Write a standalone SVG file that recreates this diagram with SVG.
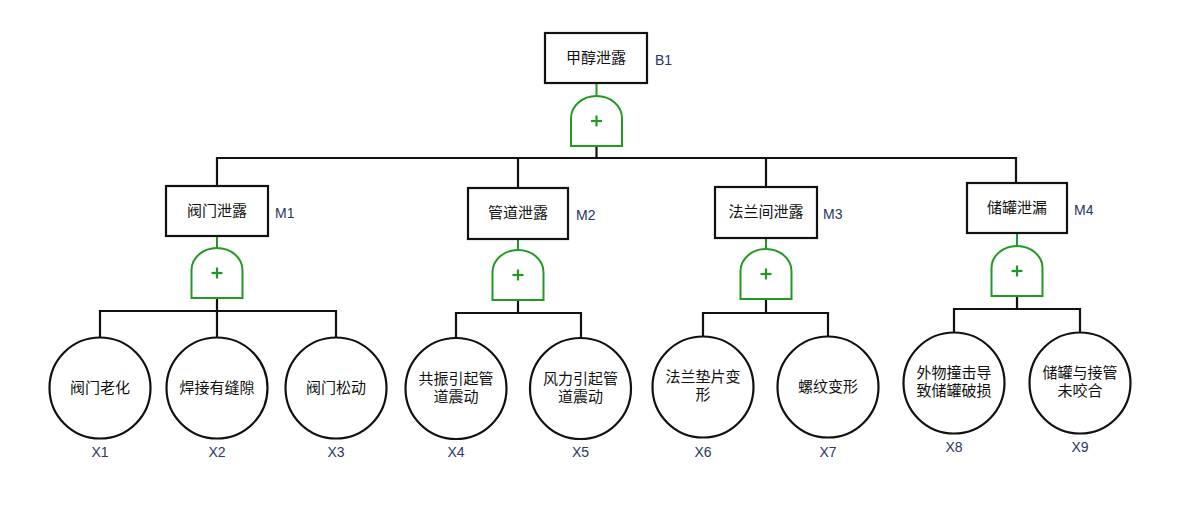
<svg xmlns="http://www.w3.org/2000/svg" width="1185" height="505" viewBox="0 0 1185 505">
<defs>
<style>
.box{fill:#fff;stroke:#111;stroke-width:2.2}
.ev{fill:#fff;stroke:#111;stroke-width:2.2}
.gate{fill:#fff;stroke:#229922;stroke-width:2}
.plus{stroke:#229922;stroke-width:2.2}
.gs{stroke:#229922;stroke-width:2;fill:none}
.ln{stroke:#111;stroke-width:2.2;fill:none}
.t{font-family:"Noto Sans CJK SC","Noto Sans",sans-serif;font-size:15px;fill:#111;text-anchor:middle}
.lb{font-family:"Liberation Sans",Arial,sans-serif;font-size:14px;fill:#2b3567}
.xl{font-family:"Liberation Sans",Arial,sans-serif;font-size:14px;fill:#2b3567;text-anchor:middle}
</style>
<g id="gateShape">
<path class="gate" d="M-25.5,50 L-25.5,22 A25.5,22 0 0 1 25.5,22 L25.5,50 Z"/>
<line class="plus" x1="-5.5" y1="25" x2="5.5" y2="25"/>
<line class="plus" x1="0" y1="19.5" x2="0" y2="30.5"/>
</g>
</defs>

<g id="connectors">
<line class="gs" x1="596.5" y1="83" x2="596.5" y2="96"/>
<polyline class="ln" points="596.5,146 596.5,158"/>
<polyline class="ln" points="217,186 217,158 1016,158 1016,183"/>
<line class="ln" x1="518" y1="158" x2="518" y2="188"/>
<line class="ln" x1="766" y1="158" x2="766" y2="187"/>
<line class="gs" x1="217" y1="236" x2="217" y2="248"/>
<line class="ln" x1="217" y1="298" x2="217" y2="338"/>
<polyline class="ln" points="100,338 100,311 336,311 336,338"/>
<line class="gs" x1="518" y1="239" x2="518" y2="250"/>
<line class="ln" x1="518" y1="301" x2="518" y2="313"/>
<polyline class="ln" points="456,338 456,313 581,313 581,338"/>
<line class="gs" x1="766" y1="238" x2="766" y2="249"/>
<line class="ln" x1="766" y1="300" x2="766" y2="313"/>
<polyline class="ln" points="703,337 703,313 828,313 828,337"/>
<line class="gs" x1="1017" y1="233" x2="1017" y2="246"/>
<line class="ln" x1="1017" y1="297" x2="1017" y2="309"/>
<polyline class="ln" points="954,333 954,309 1080,309 1080,333"/>
</g>

<g id="B1">
<rect class="box" x="545" y="33" width="102" height="50"/>
<text class="t" x="596" y="63">甲醇泄露</text>
<text class="lb" x="655" y="65">B1</text>
</g>
<g id="G0"><use href="#gateShape" x="596.5" y="96"/></g>

<g id="M1">
<rect class="box" x="166" y="186" width="102" height="50"/>
<text class="t" x="217" y="216">阀门泄露</text>
<text class="lb" x="275" y="218">M1</text>
</g>
<g id="G1"><use href="#gateShape" x="217" y="248"/></g>

<g id="M2">
<rect class="box" x="468" y="188" width="100" height="51"/>
<text class="t" x="518" y="218">管道泄露</text>
<text class="lb" x="576" y="220">M2</text>
</g>
<g id="G2"><use href="#gateShape" x="518" y="250"/></g>

<g id="M3">
<rect class="box" x="715" y="187" width="102" height="51"/>
<text class="t" x="766" y="217">法兰间泄露</text>
<text class="lb" x="823" y="219">M3</text>
</g>
<g id="G3"><use href="#gateShape" x="766" y="249"/></g>

<g id="M4">
<rect class="box" x="967" y="183" width="100" height="50"/>
<text class="t" x="1017" y="213">储罐泄漏</text>
<text class="lb" x="1074" y="215">M4</text>
</g>
<g id="G4"><use href="#gateShape" x="1017" y="246"/></g>

<g id="X1">
<circle class="ev" cx="100" cy="388" r="50.5"/>
<text class="t" x="100" y="393">阀门老化</text>
<text class="xl" x="100" y="457">X1</text>
</g>
<g id="X2">
<circle class="ev" cx="217" cy="388" r="50.5"/>
<text class="t" x="217" y="393">焊接有缝隙</text>
<text class="xl" x="217" y="457">X2</text>
</g>
<g id="X3">
<circle class="ev" cx="336" cy="388" r="50.5"/>
<text class="t" x="336" y="393">阀门松动</text>
<text class="xl" x="336" y="457">X3</text>
</g>
<g id="X4">
<circle class="ev" cx="456" cy="388.5" r="50.5"/>
<text class="t" x="456" y="384">共振引起管<tspan x="456" dy="18">道震动</tspan></text>
<text class="xl" x="456" y="457">X4</text>
</g>
<g id="X5">
<circle class="ev" cx="580.5" cy="388.5" r="50.5"/>
<text class="t" x="580.5" y="384">风力引起管<tspan x="580.5" dy="18">道震动</tspan></text>
<text class="xl" x="580.5" y="457">X5</text>
</g>
<g id="X6">
<circle class="ev" cx="703" cy="387" r="50.5"/>
<text class="t" x="703" y="382">法兰垫片变<tspan x="703" dy="18">形</tspan></text>
<text class="xl" x="703" y="457">X6</text>
</g>
<g id="X7">
<circle class="ev" cx="828" cy="387" r="50.5"/>
<text class="t" x="828" y="392">螺纹变形</text>
<text class="xl" x="828" y="457">X7</text>
</g>
<g id="X8">
<circle class="ev" cx="954" cy="383" r="50.5"/>
<text class="t" x="954" y="378">外物撞击导<tspan x="954" dy="18">致储罐破损</tspan></text>
<text class="xl" x="954" y="452">X8</text>
</g>
<g id="X9">
<circle class="ev" cx="1080" cy="383" r="50.5"/>
<text class="t" x="1080" y="378">储罐与接管<tspan x="1080" dy="18">未咬合</tspan></text>
<text class="xl" x="1080" y="452">X9</text>
</g>
</svg>
